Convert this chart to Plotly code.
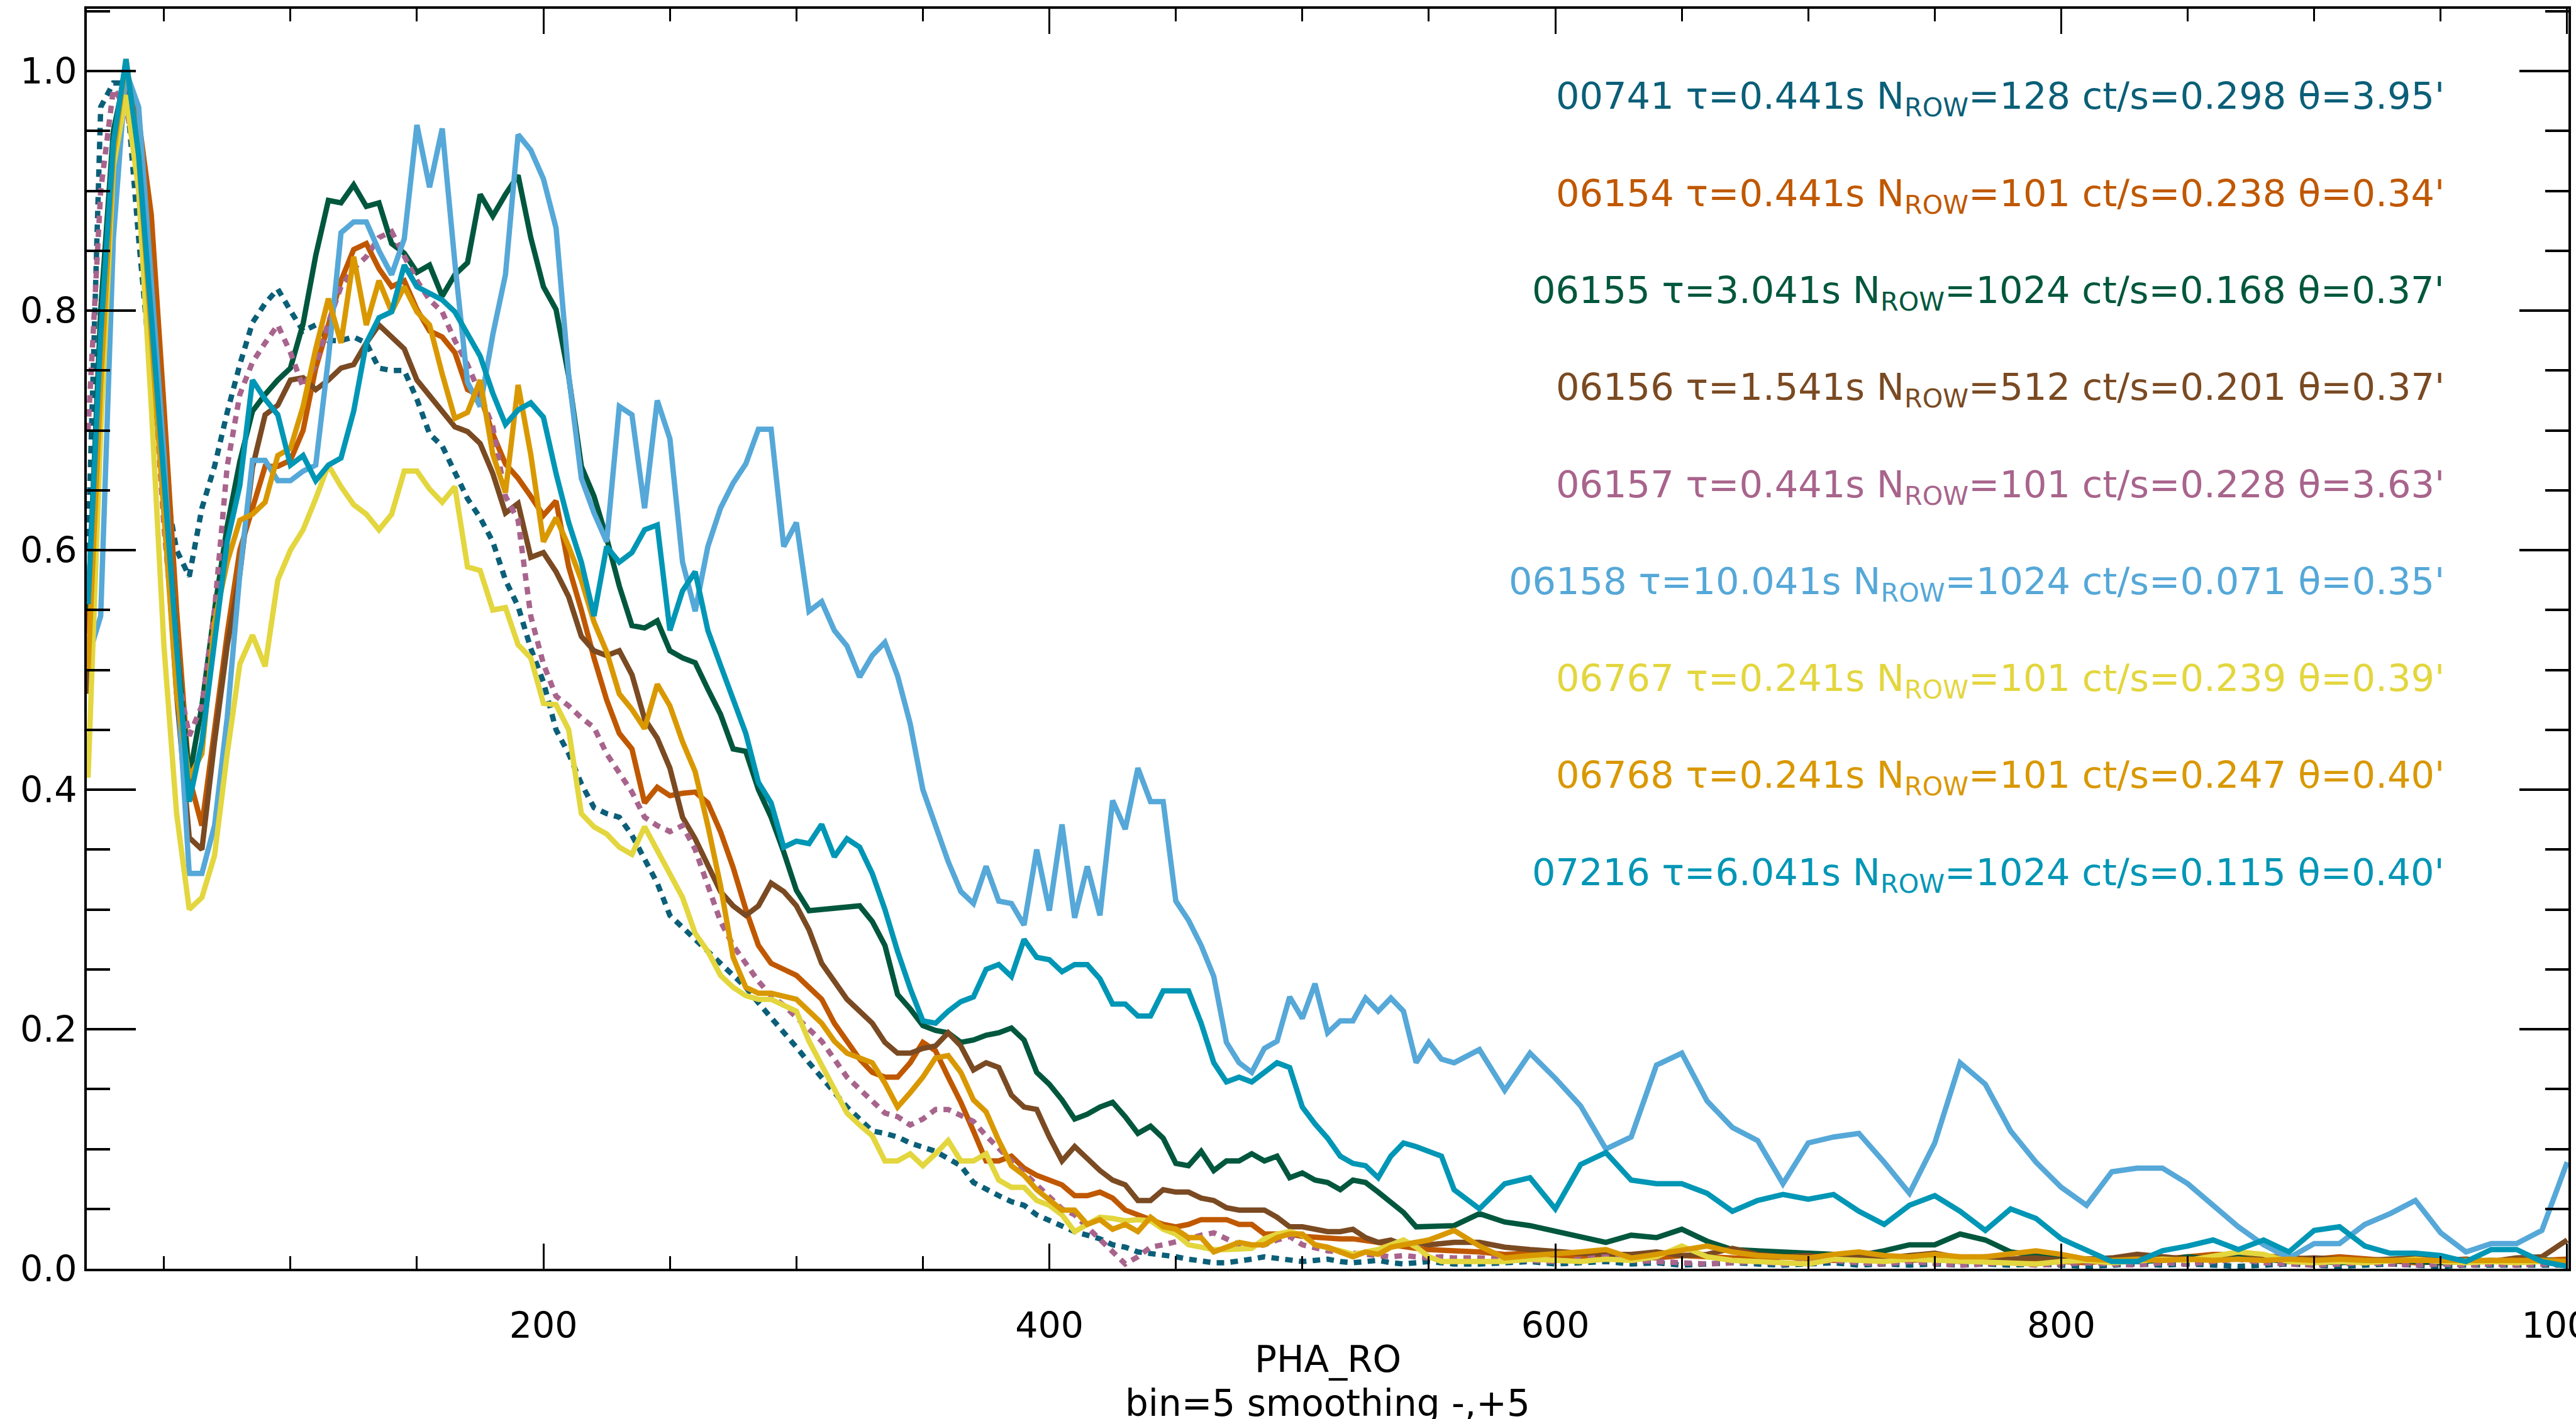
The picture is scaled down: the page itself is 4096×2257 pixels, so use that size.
import plotly.graph_objects as go

# PHA_RO bin centres: step 5 up to 560, step 10 beyond
pha = list(range(20, 565, 5)) + list(range(570, 1001, 10))

s00741 = [0.60, 0.97, 0.99, 0.99, 0.86, 0.745, 0.66, 0.60, 0.578, 0.635,
          0.67, 0.715, 0.755, 0.79, 0.806, 0.818, 0.80, 0.783, 0.788, 0.775,
          0.775, 0.778, 0.773, 0.752, 0.75, 0.75, 0.726, 0.697, 0.687, 0.664,
          0.643, 0.627, 0.607, 0.575, 0.553, 0.518, 0.49, 0.45, 0.43, 0.405,
          0.385, 0.38, 0.377, 0.362, 0.342, 0.322, 0.295, 0.285, 0.275, 0.265,
          0.255, 0.245, 0.235, 0.222, 0.21, 0.197, 0.185, 0.172, 0.16, 0.147,
          0.135, 0.125, 0.115, 0.113, 0.11, 0.105, 0.101, 0.098, 0.092, 0.086,
          0.072, 0.066, 0.061, 0.056, 0.053, 0.045, 0.04, 0.036, 0.031, 0.028,
          0.025, 0.02, 0.018, 0.014, 0.013, 0.012, 0.01, 0.008, 0.006, 0.005,
          0.005, 0.006, 0.008, 0.01, 0.009, 0.007, 0.006, 0.007, 0.008, 0.006,
          0.005, 0.006, 0.007, 0.005, 0.004, 0.005, 0.006, 0.005, 0.004,
          0.004, 0.005, 0.006, 0.004, 0.005, 0.006, 0.004, 0.005, 0.003, 0.004,
          0.005, 0.004, 0.003, 0.004, 0.005, 0.003, 0.004, 0.003, 0.004, 0.003,
          0.004, 0.003, 0.004, 0.003, 0.002, 0.003, 0.004, 0.003, 0.004, 0.003,
          0.002, 0.003, 0.004, 0.003, 0.002, 0.003, 0.004, 0.003, 0.002, 0.003,
          0.003, 0.002, 0.003, 0.003]

s06154 = [0.53, 0.75, 0.93, 1.0, 0.96, 0.88, 0.72, 0.55, 0.41, 0.37,
          0.45, 0.53, 0.60, 0.635, 0.67, 0.67, 0.675, 0.70, 0.752, 0.788,
          0.825, 0.851, 0.856, 0.835, 0.82, 0.825, 0.801, 0.783, 0.778, 0.765,
          0.734, 0.729, 0.697, 0.672, 0.66, 0.645, 0.629, 0.641, 0.586, 0.55,
          0.51, 0.475, 0.447, 0.434, 0.389, 0.402, 0.395, 0.397, 0.398, 0.389,
          0.365, 0.335, 0.30, 0.27, 0.255, 0.25, 0.245, 0.235, 0.225, 0.205,
          0.19, 0.175, 0.164, 0.16, 0.16, 0.172, 0.189, 0.182, 0.16, 0.139,
          0.115, 0.09, 0.09, 0.094, 0.084, 0.078, 0.074, 0.07, 0.061, 0.061,
          0.064, 0.059, 0.049, 0.045, 0.041, 0.037, 0.035, 0.037, 0.041, 0.041,
          0.041, 0.037, 0.037, 0.029, 0.029, 0.029, 0.027, 0.026, 0.025, 0.025,
          0.025, 0.024, 0.022, 0.02, 0.018, 0.017, 0.016, 0.016, 0.015,
          0.014, 0.012, 0.013, 0.011, 0.01, 0.012, 0.01, 0.009, 0.011, 0.01,
          0.009, 0.008, 0.01, 0.008, 0.007, 0.008, 0.009, 0.007, 0.008, 0.006,
          0.007, 0.006, 0.005, 0.006, 0.005, 0.007, 0.006, 0.008, 0.01, 0.012,
          0.012, 0.011, 0.009, 0.008, 0.01, 0.008, 0.006, 0.005, 0.006, 0.006,
          0.005, 0.006, 0.007, 0.008]

s06155 = [0.55, 0.80, 0.95, 1.0, 0.93, 0.80, 0.66, 0.52, 0.41, 0.47,
          0.55, 0.62, 0.674, 0.716, 0.73, 0.742, 0.752, 0.789, 0.846, 0.892,
          0.89, 0.905, 0.887, 0.89, 0.856, 0.848, 0.832, 0.838, 0.812, 0.83,
          0.84, 0.897, 0.879, 0.897, 0.913, 0.861, 0.82, 0.801, 0.745, 0.67,
          0.645, 0.61, 0.57, 0.537, 0.535, 0.541, 0.516, 0.51, 0.506, 0.484,
          0.463, 0.434, 0.432, 0.40, 0.377, 0.348, 0.316, 0.299, 0.30, 0.302,
          0.303, 0.303, 0.29, 0.27, 0.229, 0.217, 0.203, 0.199, 0.197, 0.189,
          0.191, 0.195, 0.197, 0.201, 0.191, 0.164, 0.154, 0.141, 0.125, 0.129,
          0.135, 0.139, 0.127, 0.113, 0.119, 0.109, 0.088, 0.086, 0.098, 0.082,
          0.09, 0.09, 0.096, 0.09, 0.094, 0.076, 0.08, 0.074, 0.072, 0.066,
          0.074, 0.072, 0.064, 0.055, 0.047, 0.035, 0.035, 0.036, 0.036,
          0.046, 0.039, 0.036, 0.031, 0.027, 0.022, 0.028, 0.026, 0.033, 0.023,
          0.016, 0.015, 0.014, 0.013, 0.011, 0.011, 0.015, 0.02, 0.02, 0.029,
          0.024, 0.014, 0.011, 0.008, 0.008, 0.007, 0.006, 0.007, 0.01, 0.008,
          0.012, 0.008, 0.006, 0.006, 0.005, 0.006, 0.007, 0.006, 0.005, 0.006,
          0.007, 0.006, 0.008, 0.005]

s06156 = [0.48, 0.72, 0.92, 0.99, 0.92, 0.78, 0.64, 0.48, 0.36, 0.35,
          0.44, 0.52, 0.58, 0.669, 0.713, 0.721, 0.742, 0.744, 0.734, 0.742,
          0.752, 0.755, 0.773, 0.788, 0.778, 0.768, 0.742, 0.729, 0.716, 0.703,
          0.699, 0.689, 0.664, 0.631, 0.639, 0.594, 0.598, 0.582, 0.561, 0.528,
          0.516, 0.512, 0.516, 0.496, 0.459, 0.443, 0.418, 0.377, 0.359, 0.336,
          0.315, 0.303, 0.295, 0.303, 0.322, 0.315, 0.303, 0.283, 0.255, 0.24,
          0.225, 0.215, 0.205, 0.189, 0.18, 0.18, 0.184, 0.186, 0.197, 0.186,
          0.166, 0.172, 0.168, 0.145, 0.135, 0.133, 0.11, 0.09, 0.102, 0.092,
          0.082, 0.074, 0.07, 0.057, 0.057, 0.066, 0.064, 0.064, 0.059, 0.057,
          0.051, 0.049, 0.049, 0.049, 0.043, 0.035, 0.035, 0.033, 0.031, 0.031,
          0.033, 0.026, 0.022, 0.024, 0.02, 0.022, 0.02, 0.021, 0.022,
          0.022, 0.018, 0.016, 0.014, 0.013, 0.012, 0.012, 0.014, 0.011, 0.012,
          0.017, 0.012, 0.01, 0.011, 0.009, 0.01, 0.009, 0.011, 0.013, 0.009,
          0.01, 0.008, 0.009, 0.007, 0.008, 0.009, 0.012, 0.01, 0.008, 0.009,
          0.014, 0.01, 0.008, 0.009, 0.008, 0.007, 0.008, 0.009, 0.007, 0.008,
          0.006, 0.009, 0.01, 0.024]

s06157 = [0.70, 0.90, 0.985, 0.97, 0.915, 0.78, 0.62, 0.50, 0.445, 0.47,
          0.55, 0.67, 0.73, 0.757, 0.773, 0.788, 0.765, 0.736, 0.755, 0.79,
          0.82, 0.835, 0.845, 0.861, 0.866, 0.845, 0.825, 0.809, 0.799, 0.775,
          0.755, 0.73, 0.703, 0.645, 0.625, 0.545, 0.505, 0.478, 0.47, 0.46,
          0.452, 0.43, 0.414, 0.398, 0.377, 0.37, 0.365, 0.37, 0.35, 0.32,
          0.29, 0.27, 0.255, 0.24, 0.228, 0.22, 0.21, 0.20, 0.19, 0.175,
          0.16, 0.15, 0.14, 0.13, 0.127, 0.12, 0.125, 0.133, 0.133, 0.128,
          0.123, 0.111, 0.10, 0.09, 0.08, 0.07, 0.06, 0.05, 0.045, 0.035,
          0.025, 0.015, 0.004, 0.01, 0.018, 0.02, 0.022, 0.025, 0.028, 0.03,
          0.025, 0.02, 0.018, 0.02, 0.024, 0.027, 0.02, 0.017, 0.015, 0.014,
          0.013, 0.012, 0.012, 0.01, 0.011, 0.01, 0.009, 0.01, 0.009,
          0.009, 0.008, 0.007, 0.006, 0.008, 0.01, 0.007, 0.006, 0.005, 0.004,
          0.005, 0.006, 0.004, 0.005, 0.007, 0.005, 0.004, 0.006, 0.004, 0.003,
          0.004, 0.005, 0.003, 0.004, 0.005, 0.004, 0.003, 0.005, 0.004, 0.006,
          0.008, 0.005, 0.004, 0.003, 0.004, 0.005, 0.004, 0.003, 0.004, 0.003,
          0.004, 0.003, 0.004, 0.003]

s06158 = [0.51, 0.545, 0.86, 1.0, 0.97, 0.83, 0.68, 0.50, 0.33, 0.33,
          0.37, 0.46, 0.58, 0.675, 0.675, 0.658, 0.658, 0.666, 0.671, 0.76,
          0.865, 0.874, 0.874, 0.85, 0.83, 0.86, 0.955, 0.903, 0.952, 0.84,
          0.74, 0.72, 0.78, 0.83, 0.947, 0.934, 0.91, 0.869, 0.746, 0.66,
          0.631, 0.607, 0.72, 0.713, 0.635, 0.725, 0.693, 0.59, 0.549, 0.603,
          0.635, 0.656, 0.672, 0.701, 0.701, 0.603, 0.623, 0.549, 0.557, 0.533,
          0.52, 0.494, 0.512, 0.523, 0.495, 0.455, 0.40, 0.37, 0.34, 0.315,
          0.305, 0.336, 0.307, 0.305, 0.287, 0.35, 0.299, 0.371, 0.293, 0.336,
          0.295, 0.391, 0.367, 0.418, 0.39, 0.39, 0.307, 0.291, 0.27, 0.244,
          0.189, 0.172, 0.164, 0.184, 0.19, 0.227, 0.209, 0.238, 0.197, 0.207,
          0.207, 0.226, 0.215, 0.226, 0.215, 0.172, 0.189, 0.175, 0.172,
          0.183, 0.149, 0.18, 0.159, 0.136, 0.10, 0.11, 0.17, 0.18, 0.14,
          0.118, 0.107, 0.071, 0.105, 0.11, 0.113, 0.089, 0.063, 0.105, 0.172,
          0.154, 0.115, 0.089, 0.068, 0.053, 0.081, 0.084, 0.084, 0.071, 0.053,
          0.035, 0.02, 0.009, 0.021, 0.021, 0.037, 0.046, 0.057, 0.03, 0.014,
          0.021, 0.021, 0.032, 0.089]

s06767 = [0.41, 0.70, 0.92, 0.98, 0.90, 0.72, 0.52, 0.38, 0.30, 0.31,
          0.345, 0.43, 0.505, 0.529, 0.503, 0.575, 0.60, 0.617, 0.643, 0.671,
          0.653, 0.638, 0.63, 0.617, 0.63, 0.666, 0.666, 0.651, 0.64, 0.653,
          0.586, 0.583, 0.55, 0.552, 0.521, 0.51, 0.472, 0.471, 0.45, 0.38,
          0.369, 0.363, 0.352, 0.346, 0.369, 0.35, 0.33, 0.31, 0.28, 0.265,
          0.245, 0.235, 0.228, 0.225, 0.225, 0.22, 0.215, 0.19, 0.17, 0.15,
          0.13, 0.12, 0.111, 0.09, 0.09, 0.096, 0.086, 0.096, 0.107, 0.09,
          0.09, 0.096, 0.074, 0.068, 0.068, 0.057, 0.053, 0.045, 0.031, 0.037,
          0.043, 0.042, 0.04, 0.041, 0.04, 0.033, 0.029, 0.02, 0.018, 0.016,
          0.016, 0.016, 0.017, 0.025, 0.029, 0.031, 0.028, 0.02, 0.018, 0.015,
          0.012, 0.014, 0.016, 0.02, 0.024, 0.018, 0.01, 0.006, 0.006,
          0.006, 0.006, 0.008, 0.007, 0.006, 0.008, 0.007, 0.01, 0.019, 0.01,
          0.007, 0.006, 0.005, 0.004, 0.008, 0.007, 0.006, 0.008, 0.007, 0.006,
          0.006, 0.005, 0.004, 0.006, 0.007, 0.005, 0.006, 0.008, 0.007, 0.01,
          0.014, 0.012, 0.006, 0.005, 0.006, 0.005, 0.007, 0.008, 0.006, 0.005,
          0.006, 0.005, 0.006, 0.005]

s06768 = [0.50, 0.74, 0.93, 1.01, 0.93, 0.78, 0.63, 0.48, 0.41, 0.43,
          0.54, 0.59, 0.625, 0.63, 0.64, 0.679, 0.685, 0.72, 0.768, 0.81,
          0.773, 0.845, 0.788, 0.825, 0.799, 0.82, 0.799, 0.788, 0.747, 0.71,
          0.715, 0.742, 0.68, 0.648, 0.738, 0.68, 0.607, 0.627, 0.603, 0.575,
          0.54, 0.515, 0.48, 0.467, 0.451, 0.488, 0.47, 0.44, 0.415, 0.37,
          0.32, 0.26, 0.235, 0.23, 0.23, 0.228, 0.225, 0.215, 0.205, 0.19,
          0.18, 0.176, 0.172, 0.155, 0.135, 0.147, 0.16, 0.176, 0.178, 0.164,
          0.141, 0.131, 0.107, 0.086, 0.078, 0.066, 0.057, 0.049, 0.049, 0.037,
          0.041, 0.033, 0.037, 0.031, 0.043, 0.035, 0.033, 0.026, 0.026, 0.014,
          0.018, 0.022, 0.02, 0.02, 0.026, 0.029, 0.029, 0.02, 0.018, 0.014,
          0.01, 0.014, 0.012, 0.018, 0.02, 0.022, 0.024, 0.028, 0.032,
          0.019, 0.009, 0.011, 0.012, 0.014, 0.016, 0.009, 0.012, 0.016, 0.019,
          0.014, 0.011, 0.01, 0.009, 0.012, 0.014, 0.011, 0.01, 0.012, 0.01,
          0.01, 0.012, 0.015, 0.012, 0.008, 0.007, 0.008, 0.007, 0.008, 0.007,
          0.008, 0.007, 0.008, 0.007, 0.008, 0.007, 0.007, 0.008, 0.007, 0.007,
          0.007, 0.007, 0.007, 0.006]

s07216 = [0.555, 0.78, 0.94, 1.01, 0.93, 0.80, 0.66, 0.52, 0.39, 0.44,
          0.52, 0.607, 0.654, 0.742, 0.726, 0.713, 0.671, 0.679, 0.658, 0.671,
          0.677, 0.716, 0.773, 0.794, 0.799, 0.838, 0.82, 0.814, 0.809, 0.799,
          0.781, 0.762, 0.731, 0.705, 0.717, 0.723, 0.711, 0.664, 0.623, 0.59,
          0.545, 0.603, 0.59, 0.598, 0.617, 0.621, 0.533, 0.566, 0.582, 0.533,
          0.504, 0.475, 0.447, 0.406, 0.389, 0.352, 0.357, 0.355, 0.371, 0.344,
          0.359, 0.352, 0.33, 0.30, 0.265, 0.234, 0.207, 0.205, 0.215, 0.223,
          0.227, 0.25, 0.254, 0.244, 0.275, 0.26, 0.258, 0.248, 0.254, 0.254,
          0.242, 0.221, 0.221, 0.211, 0.211, 0.232, 0.232, 0.232, 0.205, 0.172,
          0.156, 0.16, 0.156, 0.164, 0.172, 0.168, 0.135, 0.121, 0.109, 0.094,
          0.088, 0.086, 0.076, 0.094, 0.105, 0.102, 0.098, 0.094, 0.066,
          0.05, 0.071, 0.076, 0.05, 0.087, 0.097, 0.074, 0.071, 0.071, 0.063,
          0.048, 0.057, 0.062, 0.058, 0.062, 0.048, 0.037, 0.053, 0.061, 0.048,
          0.032, 0.05, 0.042, 0.025, 0.016, 0.006, 0.006, 0.015, 0.019, 0.024,
          0.016, 0.024, 0.014, 0.032, 0.035, 0.019, 0.013, 0.013, 0.011, 0.006,
          0.016, 0.016, 0.006, 0.002]

obs_ids = ["00741", "06154", "06155", "06156", "06157", "06158", "06767", "06768", "07216"]
tau_s = ["0.441", "0.441", "3.041", "1.541", "0.441", "10.041", "0.241", "0.241", "6.041"]
n_row = ["128", "101", "1024", "512", "101", "1024", "101", "101", "1024"]
ct_rate = ["0.298", "0.238", "0.168", "0.201", "0.228", "0.071", "0.239", "0.247", "0.115"]
theta_arcmin = ["3.95", "0.34", "0.37", "0.37", "3.63", "0.35", "0.39", "0.40", "0.40"]

series = [s00741, s06154, s06155, s06156, s06157, s06158, s06767, s06768, s07216]
colors = ["#0b5f78", "#c05800", "#00573d", "#7a4a22", "#a8648c",
          "#55a8d8", "#e3d63e", "#d99800", "#0096b5"]
dashes = ["12px,10px", "solid", "solid", "solid", "12px,10px",
          "solid", "solid", "solid", "solid"]

for s in series:
    if len(s) != len(pha):
        raise ValueError(f"length mismatch {len(s)} vs {len(pha)}")

FONT = "DejaVu Sans"
fig = go.Figure()
for sid, s, c, d in zip(obs_ids, series, colors, dashes):
    fig.add_trace(go.Scatter(x=pha, y=s, mode="lines", name=sid,
                             line=dict(color=c, width=8.5, dash=d),
                             showlegend=False, hoverinfo="skip"))

# text legend, right-aligned in data space
for i, sid in enumerate(obs_ids):
    txt = (f"{sid} τ={tau_s[i]}s N<sub>ROW</sub>={n_row[i]} "
           f"ct/s={ct_rate[i]} θ={theta_arcmin[i]}'")
    fig.add_annotation(x=952, y=0.977 - 0.081 * i, xref="x", yref="y",
                       text=txt, showarrow=False, xanchor="right", yanchor="middle",
                       font=dict(family=FONT, size=59, color=colors[i]))

fig.add_annotation(x=0.5, y=-0.072, xref="paper", yref="paper", text="PHA_RO",
                   showarrow=False, xanchor="center", yanchor="middle",
                   font=dict(family=FONT, size=58, color="black"))
fig.add_annotation(x=0.5, y=-0.107, xref="paper", yref="paper",
                   text="bin=5 smoothing -,+5", showarrow=False,
                   xanchor="center", yanchor="middle",
                   font=dict(family=FONT, size=58, color="black"))

fig.update_layout(
    width=4096, height=2257,
    margin=dict(l=138, r=12, t=14, b=239, pad=0, autoexpand=False),
    paper_bgcolor="white", plot_bgcolor="white",
    font=dict(family=FONT, size=57, color="black"),
)
fig.update_xaxes(
    range=[19.5, 1000.5], tickvals=[200, 400, 600, 800, 1000],
    ticks="inside", ticklen=40, tickwidth=3, tickcolor="black",
    showline=True, linewidth=4, linecolor="black", mirror="ticks",
    showgrid=False, zeroline=False, tickfont=dict(size=57),
    ticklabelstandoff=38, ticklabeloverflow="allow", automargin=False,
    minor=dict(dtick=50, tick0=0, ticks="inside", ticklen=20, tickwidth=3,
               tickcolor="black", showgrid=False),
)
fig.update_yaxes(
    range=[0, 1.052], tickvals=[0, 0.2, 0.4, 0.6, 0.8, 1.0],
    ticktext=["0.0", "0.2", "0.4", "0.6", "0.8", "1.0"],
    ticks="inside", ticklen=78, tickwidth=4, tickcolor="black",
    showline=True, linewidth=4, linecolor="black", mirror="ticks",
    showgrid=False, zeroline=False, tickfont=dict(size=57),
    ticklabelstandoff=0, automargin=False,
    minor=dict(dtick=0.05, tick0=0, ticks="inside", ticklen=37, tickwidth=4,
               tickcolor="black", showgrid=False),
)

fig.write_html("out.html")
